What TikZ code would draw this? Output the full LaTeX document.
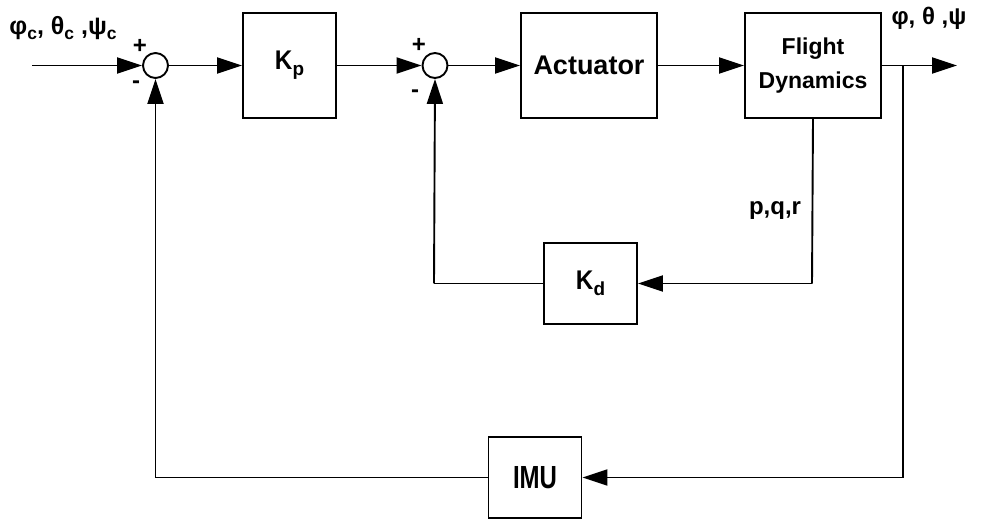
\documentclass[tikz,border=0pt]{standalone}
\usepackage{fontspec}
\setmainfont{Liberation Sans}
\usetikzlibrary{arrows.meta,positioning,calc}
\newcommand\lowsub[1]{\raisebox{-0.4ex}{\scalebox{0.7}{#1}}}
\begin{document}
\begin{tikzpicture}[x=1pt,y=-1pt,
  blk/.style={draw,line width=1.9pt,inner sep=0pt,font=\bfseries\fontsize{23}{34}\selectfont,align=center},
  sumj/.style={draw,circle,line width=1.9pt,minimum size=25pt,inner sep=0pt},
  sig/.style={line width=1.9pt},
  arr/.style={line width=1.9pt,-{Triangle[length=25pt,width=16pt]}},
  lbl/.style={font=\bfseries\fontsize{25}{28}\selectfont,inner sep=0pt},
  sgn/.style={font=\bfseries\fontsize{24}{26}\selectfont,inner sep=0pt}]
\useasboundingbox (0,0) rectangle (985,521);
% blocks
\node[blk,minimum width=93pt,minimum height=105pt] (kp) at (289.5,65.5) {\fontsize{27}{28}\selectfont\scalebox{0.9}[1]{K}\lowsub{p}};
\node[blk,minimum width=136pt,minimum height=105pt] (act) at (589,65.5) {\fontsize{27}{28}\selectfont Actuator};
\node[blk,minimum width=136pt,minimum height=105pt] (fd) at (813,65.5) {Flight\\Dynamics};
\node[blk,minimum width=93pt,minimum height=81pt] (kd) at (590.5,283.5) {\fontsize{27}{28}\selectfont\scalebox{0.9}[1]{K}\lowsub{d}};
\node[blk,minimum width=93pt,minimum height=81pt] (imu) at (535,477.5) {\fontsize{32}{34}\selectfont\scalebox{0.75}[1]{IMU}};
% summing junctions
\node[sumj] (s1) at (155.5,65.5) {};
\node[sumj] (s2) at (435,65.5) {};
% coordinates
\coordinate (in) at (32,65.5);
\coordinate (out) at (957,65.5);
\coordinate (br) at (903,65.5);
% labels
\node[lbl] (inl) at (63,28) {φ\lowsub{c}, θ\lowsub{c} ,ψ\lowsub{c}};
\node[lbl,font=\bfseries\fontsize{24}{26}\selectfont] (outl) at (929,18) {φ, θ ,ψ};
\node[lbl,font=\bfseries\fontsize{24}{26}\selectfont] (pqr) at (775,211) {p,q,r};
\node[sgn] (p1) at (140,46) {+};
\node[sgn] (m1) at (136,85) {-};
\node[sgn] (p2) at (419,45) {+};
\node[sgn] (m2) at (415,94) {-};
% forward path
\draw[arr] (in) -- (s1.west);
\draw[arr] (s1.east) -- (kp.west);
\draw[arr] (kp.east) -- (s2.west);
\draw[arr] (s2.east) -- (act.west);
\draw[arr] (act.east) -- (fd.west);
\draw[arr] (fd.east) -- (out);
% inner loop
\coordinate (kdr) at (812,283.5);
\coordinate (kdl) at (434,283.5);
\draw[sig] (fd.south) -- (kdr);
\draw[arr] (kdr) -- (kd.east);
\draw[sig] (kd.west) -- (kdl);
\draw[arr] (kdl) -- (s2.south);
% outer loop
\coordinate (imr) at (903,477.5);
\coordinate (iml) at (155.5,477.5);
\draw[sig] (br) -- (imr);
\draw[arr] (imr) -- (imu.east);
\draw[sig] (imu.west) -- (iml);
\draw[arr] (iml) -- (s1.south);
\end{tikzpicture}
\end{document}
